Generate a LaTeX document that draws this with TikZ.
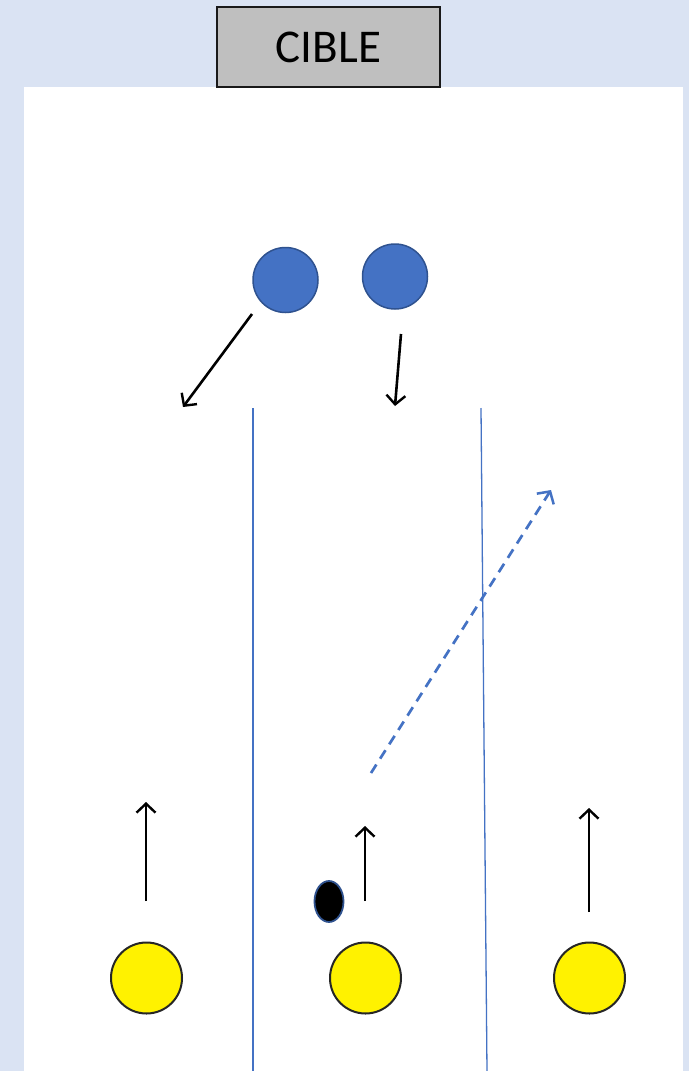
\documentclass[tikz,border=0pt]{standalone}
\usepackage{fontspec}
\setmainfont{Carlito}
\usetikzlibrary{arrows.meta,shapes.geometric}
\definecolor{bgblue}{HTML}{DAE3F3}
\definecolor{accblue}{HTML}{4472C4}
\definecolor{darkblue}{HTML}{2F528F}
\definecolor{boxgray}{HTML}{BFBFBF}
\tikzset{
  defender/.style={circle, fill=accblue, draw=darkblue, line width=1.5pt, minimum size=65pt, inner sep=0pt},
  attacker/.style={circle, fill=yellow, draw=black!85, line width=2pt, minimum size=71pt, inner sep=0pt},
  ball/.style={ellipse, fill=black, draw=darkblue, line width=1.8pt, minimum width=29pt, minimum height=41pt, inner sep=0pt},
  run/.style={draw=black, line width=2.6pt, -{Straight Barb[length=9pt,width=19pt,line width=2.4pt]}},
  pass/.style={draw=accblue, line width=2.7pt, dash pattern=on 10pt off 7pt, -{Straight Barb[length=9pt,width=20pt,line width=2.5pt]}},
  lane/.style={draw=accblue, line width=1.3pt},
}
\begin{document}
\begin{tikzpicture}[x=1pt,y=-1pt]
\useasboundingbox (0,0) rectangle (689,1071);
\fill[bgblue] (0,0) rectangle (689,1071);
\fill[white] (24,87) rectangle (683,1071);
\node[draw=black!90, fill=boxgray, line width=1.5pt, minimum width=223pt, minimum height=80pt, inner sep=0pt, font=\fontsize{47}{56}\selectfont] (cible) at (328.5,47) {CIBLE};
% lanes
\coordinate (l1t) at (253,408); \coordinate (l1b) at (253,1071);
\coordinate (l2t) at (481,408); \coordinate (l2b) at (487,1071);
\draw[lane] (l1t) -- (l1b);
\draw[lane] (l2t) -- (l2b);
% defenders
\node[defender] (d1) at (285.5,280) {};
\node[defender] (d2) at (395,276.5) {};
\coordinate (d1s) at (252,314); \coordinate (d1e) at (183,407);
\coordinate (d2s) at (401,334); \coordinate (d2e) at (395,406);
\draw[run] (d1s) -- (d1e);
\draw[run] (d2s) -- (d2e);
% attackers
\node[attacker] (a1) at (146.5,978) {};
\node[attacker] (a2) at (365.5,978) {};
\node[attacker] (a3) at (589.5,978) {};
\node[ball] (b) at (329,901.5) {};
\coordinate (a1s) at (146,901); \coordinate (a1e) at (146,802);
\coordinate (a2s) at (365,901); \coordinate (a2e) at (365,826);
\coordinate (a3s) at (589,912); \coordinate (a3e) at (589,808);
\draw[run] (a1s) -- (a1e);
\draw[run] (a2s) -- (a2e);
\draw[run] (a3s) -- (a3e);
% pass
\coordinate (ps) at (371,773); \coordinate (pe) at (551,490);
\draw[pass] (ps) -- (pe);
\end{tikzpicture}
\end{document}
